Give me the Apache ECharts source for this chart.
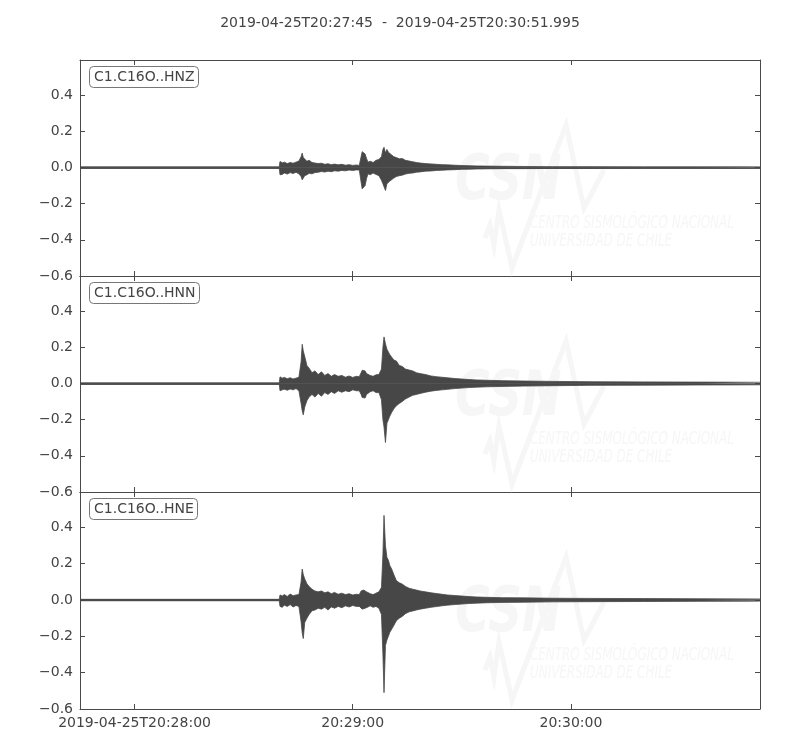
<!DOCTYPE html>
<html>
<head>
<meta charset="utf-8">
<script src="https://cdn.jsdelivr.net/npm/echarts@6/dist/echarts.min.js"></script>
<style>
  html, body { margin: 0; padding: 0; background: #fff; }
  #chart { width: 800px; height: 750px; }
</style>
</head>
<body>
<div id="chart"></div>
<script>
// ---- data (seconds after 2019-04-25T20:27:45, envelope amplitudes) ----
const titleText = '2019-04-25T20:27:45  -  2019-04-25T20:30:51.995';
const channelLabels = ['C1.C16O..HNZ', 'C1.C16O..HNN', 'C1.C16O..HNE'];
const xTickValues = [15, 75, 135];
const xTickLabels = ['2019-04-25T20:28:00', '20:29:00', '20:30:00'];
const yTickValues = [-0.6, -0.4, -0.2, 0, 0.2, 0.4];

const timeSec = [0, 54.8, 55.0, 55.6, 56.2, 57.0, 57.8, 58.6, 59.4, 60.2, 60.8, 61.1, 61.4, 61.8, 62.4, 63.0, 63.8, 64.6, 65.5, 66.4,
  67.3, 68.2, 69.1, 70.0, 71.0, 72.0, 73.0, 74.0, 75.0, 76.0, 76.8, 77.3, 77.6, 78.0, 78.4, 78.8, 79.2, 79.8, 80.6, 81.4,
  82.2, 82.9, 83.3, 83.6, 84.0, 84.4, 84.8, 85.2, 85.7, 86.3, 87.0, 87.8, 88.6, 89.5, 90.5, 91.5, 92.5, 93.5, 95, 96.5,
  98, 99.5, 101, 103, 105, 107, 109, 112, 116, 122, 130, 140, 155, 170, 186.995];

const hnzUpper = [0.004, 0.004, 0.034, 0.026, 0.03, 0.022, 0.028, 0.024, 0.03, 0.036, 0.06, 0.08, 0.055, 0.045, 0.035, 0.04, 0.028, 0.025, 0.022, 0.024,
  0.018, 0.021, 0.016, 0.019, 0.015, 0.018, 0.013, 0.016, 0.012, 0.014, 0.012, 0.06, 0.088, 0.09, 0.075, 0.05, 0.03, 0.035, 0.028, 0.04,
  0.045, 0.06, 0.1, 0.112, 0.08, 0.1, 0.085, 0.09, 0.07, 0.06, 0.055, 0.048, 0.05, 0.04, 0.036, 0.032, 0.028, 0.025, 0.022, 0.02,
  0.018, 0.016, 0.015, 0.013, 0.011, 0.01, 0.009, 0.008, 0.007, 0.006, 0.005, 0.005, 0.004, 0.004, 0.004];
const hnzLower = [-0.004, -0.004, -0.04, -0.038, -0.03, -0.036, -0.028, -0.033, -0.026, -0.035, -0.05, -0.068, -0.06, -0.045, -0.04, -0.032, -0.035, -0.028, -0.026, -0.022,
  -0.025, -0.02, -0.023, -0.018, -0.02, -0.016, -0.018, -0.014, -0.016, -0.013, -0.014, -0.08, -0.118, -0.12, -0.1, -0.06, -0.035, -0.04, -0.03, -0.038,
  -0.045, -0.07, -0.09, -0.1, -0.127, -0.09, -0.08, -0.075, -0.065, -0.058, -0.05, -0.045, -0.042, -0.036, -0.032, -0.03, -0.026, -0.024, -0.02, -0.019,
  -0.016, -0.015, -0.013, -0.012, -0.01, -0.009, -0.008, -0.007, -0.006, -0.006, -0.005, -0.005, -0.004, -0.004, -0.004];

const hnnUpper = [0.004, 0.004, 0.037, 0.03, 0.034, 0.027, 0.032, 0.025, 0.03, 0.035, 0.12, 0.217, 0.18, 0.15, 0.1, 0.085, 0.06, 0.07, 0.05, 0.065,
  0.045, 0.055, 0.04, 0.05, 0.04, 0.045, 0.035, 0.042, 0.034, 0.04, 0.038, 0.06, 0.074, 0.065, 0.07, 0.055, 0.06, 0.045, 0.04, 0.048,
  0.05, 0.08, 0.2, 0.258, 0.22, 0.19, 0.2, 0.16, 0.15, 0.13, 0.125, 0.1, 0.095, 0.08, 0.075, 0.07, 0.06, 0.055, 0.05, 0.042,
  0.038, 0.035, 0.032, 0.028, 0.025, 0.022, 0.02, 0.018, 0.016, 0.014, 0.012, 0.01, 0.009, 0.008, 0.007];
const hnnLower = [-0.004, -0.004, -0.04, -0.035, -0.031, -0.037, -0.03, -0.035, -0.028, -0.04, -0.11, -0.15, -0.173, -0.13, -0.095, -0.075, -0.06, -0.075, -0.055, -0.07,
  -0.05, -0.06, -0.045, -0.055, -0.04, -0.048, -0.04, -0.045, -0.035, -0.04, -0.04, -0.06, -0.077, -0.07, -0.08, -0.06, -0.055, -0.045, -0.04, -0.05,
  -0.05, -0.09, -0.2, -0.24, -0.326, -0.22, -0.2, -0.18, -0.16, -0.14, -0.123, -0.11, -0.1, -0.085, -0.075, -0.065, -0.06, -0.055, -0.048, -0.042,
  -0.038, -0.035, -0.032, -0.028, -0.025, -0.022, -0.02, -0.018, -0.016, -0.014, -0.012, -0.01, -0.009, -0.008, -0.007];

const hneUpper = [0.004, 0.004, 0.028, 0.022, 0.03, 0.02, 0.033, 0.024, 0.028, 0.03, 0.1, 0.171, 0.14, 0.116, 0.09, 0.075, 0.06, 0.05, 0.045, 0.05,
  0.04, 0.045, 0.035, 0.042, 0.032, 0.038, 0.03, 0.035, 0.028, 0.032, 0.03, 0.05, 0.06, 0.055, 0.06, 0.045, 0.04, 0.035, 0.03, 0.038,
  0.045, 0.07, 0.25, 0.466, 0.3, 0.235, 0.22, 0.19, 0.171, 0.14, 0.107, 0.095, 0.088, 0.075, 0.065, 0.06, 0.055, 0.05, 0.045, 0.04,
  0.036, 0.032, 0.028, 0.025, 0.022, 0.019, 0.017, 0.015, 0.013, 0.012, 0.01, 0.009, 0.008, 0.007, 0.006];
const hneLower = [-0.004, -0.004, -0.035, -0.04, -0.028, -0.035, -0.025, -0.038, -0.03, -0.035, -0.12, -0.18, -0.212, -0.123, -0.1, -0.08, -0.059, -0.055, -0.045, -0.05,
  -0.04, -0.055, -0.038, -0.045, -0.035, -0.042, -0.032, -0.038, -0.03, -0.035, -0.035, -0.045, -0.05, -0.055, -0.045, -0.04, -0.038, -0.032, -0.04, -0.035,
  -0.045, -0.08, -0.3, -0.51, -0.25, -0.22, -0.2, -0.178, -0.169, -0.14, -0.114, -0.1, -0.09, -0.075, -0.065, -0.06, -0.055, -0.05, -0.045, -0.04,
  -0.036, -0.032, -0.028, -0.025, -0.022, -0.019, -0.017, -0.015, -0.013, -0.012, -0.01, -0.009, -0.008, -0.007, -0.006];

const upperSets = [hnzUpper, hnnUpper, hneUpper];
const lowerSets = [hnzLower, hnnLower, hneLower];

// ---- layout / style ----
const FONT = '"DejaVu Sans", sans-serif';
const TXT = '#444';
const FRAME = '#4a4a4a';
const WAVE = '#474747';
const WM = '#f6f6f6';
const WMFONT = '"Liberation Sans Narrow", "DejaVu Sans Condensed", "Liberation Sans", sans-serif';
const panelTops = [60, 276, 492];
const panelHeights = [216, 216, 217];
const X_MIN = 0, X_MAX = 186.995;
const Y_MIN = -0.6, Y_MAX = 0.595;

const chart = echarts.init(document.getElementById('chart'), null, { renderer: 'canvas' });

const grids = [], xAxes = [], yAxes = [], series = [], titles = [], graphics = [];

titles.push({
  text: titleText, left: 'center', top: 11,
  textStyle: { fontFamily: FONT, fontSize: 14, fontWeight: 'normal', color: TXT }
});

const fmtY = v => (Math.abs(v) < 1e-9 ? '0.0' : v.toFixed(1).replace('-', '\u2212'));
const fmtX = v => {
  const i = xTickValues.findIndex(t => Math.abs(t - v) < 1e-6);
  return i >= 0 ? xTickLabels[i] : '';
};

for (let p = 0; p < 3; p++) {
  grids.push({ left: 80, right: 40, top: panelTops[p], height: panelHeights[p], containLabel: false });
  const isLast = p === 2;
  ['bottom', 'top'].forEach(pos => {
    xAxes.push({
      type: 'value', gridIndex: p, position: pos, min: X_MIN, max: X_MAX,
      axisLine: { show: true, onZero: false, lineStyle: { color: FRAME, width: 1 } },
      axisTick: { show: true, inside: true, length: 5, customValues: xTickValues, lineStyle: { color: FRAME } },
      axisLabel: {
        show: isLast && pos === 'bottom', customValues: xTickValues, formatter: fmtX,
        fontFamily: FONT, fontSize: 14, color: TXT, margin: 7
      },
      splitLine: { show: false }
    });
  });
  ['left', 'right'].forEach(pos => {
    yAxes.push({
      type: 'value', gridIndex: p, position: pos, min: Y_MIN, max: Y_MAX,
      axisLine: { show: true, onZero: false, lineStyle: { color: FRAME, width: 1 } },
      axisTick: { show: true, inside: true, length: 5, customValues: yTickValues, lineStyle: { color: FRAME } },
      axisLabel: {
        show: pos === 'left', customValues: yTickValues, formatter: fmtY,
        fontFamily: FONT, fontSize: 14, color: TXT, margin: 7
      },
      splitLine: { show: false }
    });
  });

  [upperSets[p], lowerSets[p]].forEach((vals, k) => {
    const s = {
      type: 'line', name: channelLabels[p] + (k ? ' min' : ' max'),
      xAxisIndex: 2 * p, yAxisIndex: 2 * p,
      data: timeSec.map((t, i) => [t, vals[i]]),
      showSymbol: false, symbol: 'none', animation: false, silent: true,
      lineStyle: { color: WAVE, width: 0.8 },
      areaStyle: { color: WAVE, opacity: 1, origin: 'auto' },
      z: 3
    };
    if (k === 1) {
      // zero baseline of the trace (covers the seam between the two halves)
      s.markLine = {
        silent: true, symbol: 'none', animation: false,
        label: { show: false },
        lineStyle: { color: WAVE, width: 1.6, type: 'solid' },
        data: [{ yAxis: 0 }]
      };
    }
    series.push(s);
  });

  titles.push({
    text: channelLabels[p], left: 89, top: panelTops[p] + 6,
    padding: [4, 4, 3, 5],
    borderColor: '#777', borderWidth: 1, borderRadius: 4, backgroundColor: '#fff',
    textStyle: { fontFamily: FONT, fontSize: 14, fontWeight: 'normal', color: TXT, lineHeight: 15 }
  });

  // faint CSN watermark
  const T = panelTops[p];
  graphics.push(
    { type: 'polyline', silent: true, z: 1,
      shape: { points: [[485, T + 178], [490, T + 165], [494, T + 185], [499, T + 150], [512, T + 208], [566, T + 65], [584, T + 148], [604, T + 110]] },
      style: { stroke: WM, lineWidth: 5, fill: null } },
    { type: 'text', silent: true, z: 1, x: 455, y: T + 92, scaleX: 0.85,
      style: { text: 'CSN', font: 'italic bold 62px ' + WMFONT, fill: WM } },
    { type: 'text', silent: true, z: 1, x: 530, y: T + 155, scaleX: 0.78,
      style: { text: 'CENTRO SISMOLÓGICO NACIONAL', font: 'italic 17px ' + WMFONT, fill: WM } },
    { type: 'text', silent: true, z: 1, x: 530, y: T + 173, scaleX: 0.78,
      style: { text: 'UNIVERSIDAD DE CHILE', font: 'italic 17px ' + WMFONT, fill: WM } }
  );
}

chart.setOption({
  animation: false,
  backgroundColor: '#fff',
  title: titles,
  grid: grids,
  xAxis: xAxes,
  yAxis: yAxes,
  series: series,
  graphic: graphics
});
</script>
</body>
</html>
